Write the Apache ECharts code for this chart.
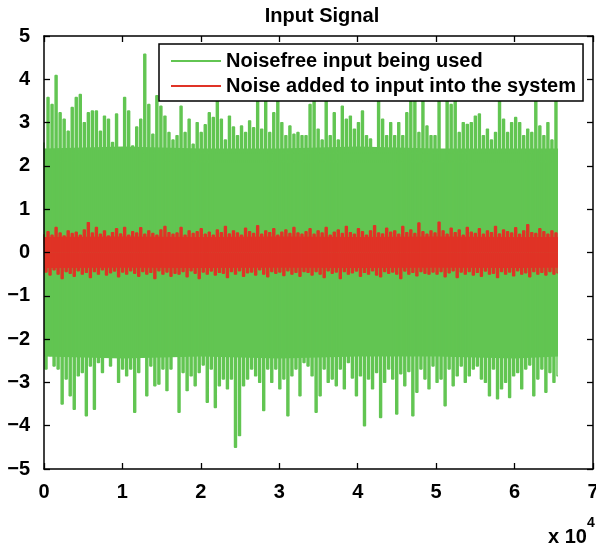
<!DOCTYPE html>
<html>
<head>
<meta charset="utf-8">
<title>Input Signal</title>
<script src="https://cdn.jsdelivr.net/npm/echarts@6/dist/echarts.min.js"></script>
<style>
    html, body { margin: 0; padding: 0; background: #fff; }
    #drawChart { width: 596px; height: 551px; }
</style>
</head>
<body>
<div id="drawChart"></div>
<script>
//数据：峰值 (每 512 个采样点一对 高/低)
var xTicks = [0, 1, 2, 3, 4, 5, 6, 7];
var yTicks = [-5, -4, -3, -2, -1, 0, 1, 2, 3, 4, 5];
var sampleStep = 257;   //相邻两点的采样间隔

var noisefreeHigh = [
    2.54, 3.58, 3.42, 4.09, 3.23, 3.08, 2.8, 3.35, 3.58, 3.65, 3.0, 3.23, 3.27, 3.27, 2.8, 3.15, 3.08,
    2.54, 3.2, 2.4, 3.58, 3.27, 2.46, 2.9, 3.08, 4.58, 3.42, 2.73, 3.62, 3.38, 3.15, 2.77, 2.6,
    2.7, 3.38, 2.77, 3.08, 2.5, 3.0, 2.77, 2.95, 3.23, 3.12, 3.6, 3.08, 2.6, 3.15, 2.9, 2.7,
    2.92, 2.77, 3.04, 2.88, 3.6, 2.85, 3.6, 2.77, 3.23, 3.65, 3.0, 2.7, 2.92, 2.73, 2.77, 2.7,
    2.7, 3.42, 3.5, 2.85, 2.6, 3.5, 2.7, 3.23, 2.6, 3.38, 3.08, 3.15, 2.85, 3.0, 3.27, 2.7,
    2.62, 2.3, 3.5, 3.08, 2.7, 3.0, 2.7, 3.0, 2.7, 3.23, 3.6, 3.55, 2.77, 3.5, 2.92, 2.7,
    2.7, 3.5, 2.1, 3.5, 3.42, 3.5, 2.77, 3.0, 2.96, 3.0, 3.15, 3.2, 2.7, 2.85, 2.6, 2.77,
    3.5, 3.08, 2.77, 3.0, 3.12, 3.0, 2.7, 2.85, 2.77, 3.5, 2.92, 2.7, 3.0, 2.6, 3.5
];
var noisefreeLow = [
    -2.69, -2.38, -2.62, -2.69, -3.5, -2.92, -3.31, -3.62, -2.85, -2.77, -3.77, -2.62, -3.62, -2.54, -2.77, -2.38, -2.62,
    -2.38, -3.0, -2.69, -2.85, -2.69, -3.69, -2.77, -2.38, -3.31, -2.62, -3.08, -3.04, -2.69, -3.19, -2.69, -2.38,
    -3.69, -2.77, -3.19, -2.85, -3.08, -2.77, -2.6, -3.46, -2.69, -3.58, -3.08, -2.92, -3.15, -2.92, -4.5, -4.23,
    -3.08, -2.92, -2.69, -2.85, -3.0, -3.65, -2.69, -3.0, -2.69, -3.15, -2.92, -3.77, -2.85, -2.69, -3.31, -2.54,
    -2.62, -2.85, -3.69, -3.31, -2.69, -3.0, -2.92, -3.08, -2.69, -3.15, -2.54, -2.9, -3.31, -2.85, -4.0, -2.92,
    -3.15, -2.77, -3.81, -3.0, -2.69, -2.92, -3.73, -2.8, -3.08, -2.75, -3.77, -3.23, -2.69, -2.92, -3.15, -2.62,
    -3.0, -2.92, -3.54, -2.69, -3.08, -2.85, -2.62, -3.0, -2.85, -2.69, -2.62, -2.92, -3.0, -3.31, -2.69, -3.38,
    -3.15, -3.0, -3.35, -2.85, -2.77, -3.15, -2.69, -2.6, -3.31, -2.92, -2.69, -3.23, -2.77, -3.0, -2.85
];
var noiseHigh = [
    0.42, 0.48, 0.4, 0.58, 0.45, 0.38, 0.5, 0.44, 0.47, 0.4, 0.52, 0.69, 0.45, 0.58, 0.42, 0.5, 0.38,
    0.46, 0.55, 0.43, 0.58, 0.4, 0.48, 0.45, 0.57, 0.42, 0.5, 0.44, 0.4, 0.52, 0.6, 0.46, 0.42,
    0.45, 0.58, 0.4, 0.5, 0.44, 0.48, 0.55, 0.42, 0.47, 0.4, 0.52, 0.46, 0.6, 0.43, 0.5, 0.45,
    0.4, 0.56, 0.48, 0.44, 0.62, 0.42, 0.5, 0.46, 0.55, 0.4, 0.47, 0.52, 0.44, 0.58, 0.45, 0.42,
    0.48, 0.55, 0.42, 0.5, 0.45, 0.58, 0.4, 0.47, 0.52, 0.44, 0.6, 0.46, 0.42, 0.55, 0.48, 0.4,
    0.5, 0.62, 0.45, 0.43, 0.56, 0.47, 0.5, 0.42, 0.6, 0.46, 0.52, 0.44, 0.68, 0.48, 0.42, 0.5,
    0.45, 0.7, 0.5, 0.42, 0.56, 0.46, 0.52, 0.4, 0.58, 0.47, 0.44, 0.55, 0.42, 0.5, 0.46, 0.6,
    0.43, 0.52, 0.48, 0.45, 0.57, 0.42, 0.5, 0.64, 0.46, 0.44, 0.55, 0.48, 0.42, 0.5, 0.45
];
var noiseLow = [
    -0.45, -0.52, -0.4, -0.5, -0.6, -0.44, -0.48, -0.55, -0.42, -0.5, -0.46, -0.58, -0.44, -0.5, -0.4, -0.52, -0.47,
    -0.43, -0.56, -0.45, -0.5, -0.42, -0.48, -0.55, -0.44, -0.5, -0.46, -0.6, -0.42, -0.5, -0.45, -0.55, -0.48,
    -0.5, -0.44, -0.56, -0.42, -0.48, -0.6, -0.45, -0.5, -0.43, -0.52, -0.46, -0.48, -0.58, -0.44, -0.5, -0.42,
    -0.55, -0.47, -0.45, -0.52, -0.4, -0.5, -0.56, -0.44, -0.48, -0.45, -0.53, -0.42, -0.5, -0.46, -0.55, -0.44,
    -0.46, -0.52, -0.44, -0.5, -0.58, -0.42, -0.48, -0.45, -0.6, -0.44, -0.5, -0.47, -0.43, -0.55, -0.46, -0.5,
    -0.42, -0.52, -0.56, -0.44, -0.48, -0.45, -0.5, -0.6, -0.43, -0.5, -0.46, -0.54, -0.44, -0.48, -0.5, -0.45,
    -0.5, -0.44, -0.56, -0.47, -0.42, -0.58, -0.45, -0.5, -0.44, -0.52, -0.46, -0.55, -0.43, -0.5, -0.48, -0.58,
    -0.44, -0.5, -0.45, -0.54, -0.42, -0.5, -0.47, -0.56, -0.44, -0.5, -0.46, -0.52, -0.44, -0.5, -0.47
];
//信号密集的实心部分 (上下边界)
var coreX = [0, 10000, 20000, 30000, 40000, 50000, 60000, 65535];
var noisefreeCoreTop = [2.4, 2.45, 2.4, 2.4, 2.45, 2.4, 2.4, 2.4];
var noisefreeCoreBottom = [-2.4, -2.45, -2.4, -2.45, -2.4, -2.4, -2.45, -2.4];
var noiseCoreTop = [0.36, 0.37, 0.36, 0.37, 0.36, 0.37, 0.36, 0.36];
var noiseCoreBottom = [-0.36, -0.35, -0.36, -0.35, -0.36, -0.35, -0.36, -0.35];

var green = '#62c552', red = '#e03326';
var font = 'Liberation Sans, Arial, Helvetica, sans-serif';

//高低交替连成一条线
function zigzag(high, low) {
    var out = [];
    for (var i = 0; i < high.length; i++) {
        out.push([(2 * i) * sampleStep, high[i]]);
        out.push([(2 * i + 1) * sampleStep, low[i]]);
    }
    return out;
}
function pairs(xs, ys) {
    var out = [];
    for (var i = 0; i < xs.length; i++) out.push([xs[i], ys[i]]);
    return out;
}
function band(name, ys, color, z) {
    return {
        name: name, type: 'line', data: pairs(coreX, ys), showSymbol: false, symbol: 'none', z: z,
        lineStyle: {width: 0, color: color}, itemStyle: {color: color},
        areaStyle: {origin: 0, color: color, opacity: 1}, silent: true
    };
}
//阶梯线 + 面积, 看起来像密集的竖条
function signal(name, data, color, z) {
    return {
        name: name, type: 'line', data: data, showSymbol: false, symbol: 'none', step: 'middle', z: z,
        lineStyle: {width: 1.4, color: color}, itemStyle: {color: color},
        areaStyle: {origin: 0, color: color, opacity: 1}, silent: true
    };
}

var myChart = echarts.init(document.getElementById('drawChart'), null, {renderer: 'canvas'});

var tickStyle = {show: true, inside: true, length: 6, lineStyle: {color: '#000', width: 1.3}};
var lineStyle = {show: true, onZero: false, lineStyle: {color: '#000', width: 1.5}};
var labelStyle = {color: '#000', fontSize: 20, fontWeight: 'bold', fontFamily: font};

var option = {
    animation: false,
    backgroundColor: '#fff',
    title: {
        text: 'Input Signal', left: 317, top: 1, textAlign: 'center',
        textStyle: {color: '#000', fontSize: 20, fontWeight: 'bold', fontFamily: font}
    },
    legend: {
        orient: 'vertical', left: 159, top: 44, z: 10,
        data: ['Noisefree input being used', 'Noise added to input into the system'],
        icon: 'rect', itemWidth: 50, itemHeight: 2, itemGap: 5,
        padding: [7, 7, 5, 12],
        backgroundColor: '#fff', borderColor: '#000', borderWidth: 1.5, borderRadius: 0,
        textStyle: {color: '#000', fontSize: 20, fontWeight: 'bold', fontFamily: font},
        selectedMode: false
    },
    grid: {left: 44, right: 3, top: 36, bottom: 82, containLabel: false, outerBoundsMode: 'none'},
    xAxis: [
        {type: 'value', min: 0, max: 70000, interval: 10000, position: 'bottom', z: 8,
            axisLine: lineStyle, axisTick: tickStyle, splitLine: {show: false},
            axisLabel: Object.assign({margin: 13, formatter: function (v) { return xTicks[Math.round(v / 10000)]; }}, labelStyle)},
        {type: 'value', min: 0, max: 70000, interval: 10000, position: 'top', z: 8,
            axisLine: lineStyle, axisTick: tickStyle, splitLine: {show: false}, axisLabel: {show: false}}
    ],
    yAxis: [
        {type: 'value', min: -5, max: 5, interval: 1, position: 'left', z: 8,
            axisLine: lineStyle, axisTick: tickStyle, splitLine: {show: false},
            axisLabel: Object.assign({margin: 14, formatter: function (v) {
                var t = yTicks[Math.round(v) + 5];
                return t < 0 ? '\u2212' + (-t) : String(t);
            }}, labelStyle)},
        {type: 'value', min: -5, max: 5, interval: 1, position: 'right', z: 8,
            axisLine: lineStyle, axisTick: tickStyle, splitLine: {show: false}, axisLabel: {show: false}}
    ],
    graphic: [
        {type: 'text', left: 548, top: 527, style: {text: 'x 10', fill: '#000', font: 'bold 20px ' + font}},
        {type: 'text', left: 587, top: 516, style: {text: '4', fill: '#000', font: 'bold 14px ' + font}}
    ],
    series: [
        band('nf-top', noisefreeCoreTop, green, 2),
        band('nf-bottom', noisefreeCoreBottom, green, 2),
        signal('Noisefree input being used', zigzag(noisefreeHigh, noisefreeLow), green, 3),
        band('n-top', noiseCoreTop, red, 4),
        band('n-bottom', noiseCoreBottom, red, 4),
        signal('Noise added to input into the system', zigzag(noiseHigh, noiseLow), red, 5)
    ]
};

myChart.setOption(option);
</script>
</body>
</html>
